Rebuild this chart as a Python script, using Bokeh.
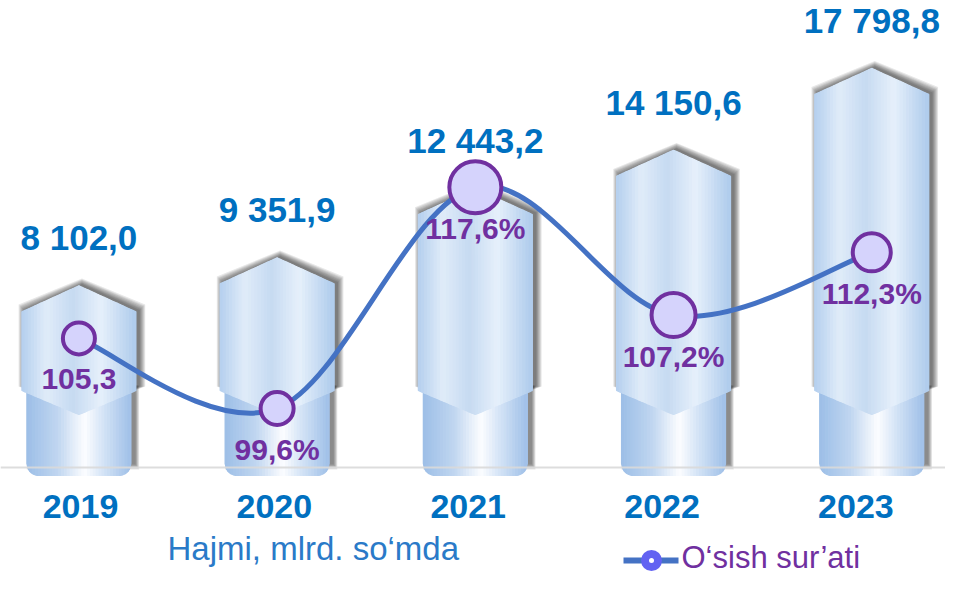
import math
from bokeh.plotting import figure
from bokeh.models import Range1d, ColumnDataSource, Span
from bokeh.embed import file_html
from bokeh.resources import INLINE
from bokeh.core.properties import value

# ---------------- data ----------------
years = ["2019", "2020", "2021", "2022", "2023"]
volume = [8102.0, 9351.9, 12443.2, 14150.6, 17798.8]
growth = [105.3, 99.6, 117.6, 107.2, 112.3]
growth_labels = ["105,3", "99,6%", "117,6%", "107,2%", "112,3%"]
volume_title = "Hajmi, mlrd. so\u2018mda"
growth_title = "O\u2018sish sur\u2019ati"

# ---------------- styles ----------------
marker_sizes = [32, 33, 52, 44, 38]
FONT = value("Liberation Sans")
BLUE_TXT = "#0070c0"
PURPLE = "#7030a0"
LINE_BLUE = "#4472c4"

W, H = 945, 575
X0, X1 = -0.3956, 4.372
Y0, Y1 = -4817.0, 20828.0
P0, P1 = 86.01, 132.79
ux = (X1 - X0) / W      # data units per px (x)
uy = (Y1 - Y0) / H      # data units per px (volume axis)
up = (P1 - P0) / H      # data units per px (growth axis)

def sx(px):
    return X0 + px * ux

def sy(py):
    return Y1 - py * uy

def hex2rgb(h):
    h = h.lstrip("#")
    return tuple(int(h[i:i + 2], 16) for i in (0, 2, 4))

def grad(stops, t):
    for (t0, c0), (t1, c1) in zip(stops[:-1], stops[1:]):
        if t <= t1:
            f = (t - t0) / (t1 - t0)
            a, b = hex2rgb(c0), hex2rgb(c1)
            return "#%02x%02x%02x" % tuple(int(round(a[j] + (b[j] - a[j]) * f)) for j in range(3))
    return stops[-1][1]

upper_stops = [(0, "#b4cfee"), (0.22, "#e0ecf9"), (0.45, "#c6daf1"), (0.7, "#e6f0fb"), (1, "#aecbec")]
lower_stops = [(0, "#9cbee7"), (0.3, "#c0d6f0"), (0.56, "#fcfdff"), (0.76, "#d0e1f5"), (1, "#a0c0e8")]

idx = list(range(len(years)))

p = figure(width=W, height=H, x_range=Range1d(X0, X1), y_range=Range1d(Y0, Y1),
           output_backend="svg", toolbar_location=None, min_border=0,
           x_axis_location=None, y_axis_location=None)
p.extra_y_ranges = {"pct": Range1d(P0, P1)}
p.grid.visible = False
p.outline_line_color = None
p.background_fill_color = "white"
p.border_fill_color = "white"

# geometry (px)
HW_UP, DROP, CH_SIDE, CH_PT = 57, 26, 77, 53
HW_LO, LO_BOT, LO_TOP, RAD = 52, -8, 82, 12
N = 36
TXT_SHIFT = 12   # compensation for the svg text baseline

sh_xs, sh_ys = [], []
base_xs, base_ys = [], []
lo_xs, lo_ys, lo_c = [], [], []
ub_xs, ub_ys = [], []
ups_x, ups_y, ups_c = [], [], []

for i, v in zip(idx, volume):
    # blurred shadow of upper piece
    for k in range(1, 8):
        hw = (HW_UP + k * 0.9) * ux
        ox, oy = 3 * ux, 1 * uy
        sh_xs.append([i - hw + ox, i + ox, i + hw + ox, i + hw + ox, i + ox, i - hw + ox])
        sh_ys.append([v - DROP * uy + k * 0.9 * uy + oy, v + k * 0.9 * uy + oy,
                      v - DROP * uy + k * 0.9 * uy + oy,
                      (CH_SIDE + 4) * uy, (CH_PT + 4) * uy, (CH_SIDE + 4) * uy])
    # blurred shadow of lower piece
    for k in range(1, 7):
        hw = (HW_LO + k * 0.7) * ux
        ox = 4 * ux
        sh_xs.append([i - hw + ox, i + hw + ox, i + hw + ox, i - hw + ox])
        sh_ys.append([LO_TOP * uy, LO_TOP * uy, (LO_BOT + RAD - k) * uy, (LO_BOT + RAD - k) * uy])

    # lower cylinder
    def ybot(r):
        e = (1 - abs(r)) * HW_LO
        if e < RAD:
            return (LO_BOT + RAD - math.sqrt(max(RAD ** 2 - (RAD - e) ** 2, 0))) * uy
        return LO_BOT * uy
    outline_x, outline_y = [], []
    M = 40
    for k in range(M + 1):
        r = -1 + 2 * k / M
        outline_x.append(i + r * HW_LO * ux)
        outline_y.append(ybot(r))
    base_xs.append([i - HW_LO * ux] + outline_x + [i + HW_LO * ux])
    base_ys.append([LO_TOP * uy] + outline_y + [LO_TOP * uy])
    for k in range(N):
        a = -1 + 2 * k / N
        b = -1 + 2 * (k + 1) / N
        xa, xb = i + a * HW_LO * ux, i + b * HW_LO * ux
        mid = (a + b) / 2
        lo_xs.append([xa, xb, xb, i + mid * HW_LO * ux, xa])
        lo_ys.append([LO_TOP * uy, LO_TOP * uy, ybot(b), ybot(mid), ybot(a)])
        lo_c.append(grad(lower_stops, (k + 0.5) / N))

    # upper arrow piece
    def ytop(r):
        return v - DROP * uy * abs(r)
    def yb(r):
        return (CH_PT + (CH_SIDE - CH_PT) * abs(r)) * uy
    ub_xs.append([i - HW_UP * ux, i, i + HW_UP * ux, i + HW_UP * ux, i, i - HW_UP * ux])
    ub_ys.append([ytop(1), ytop(0), ytop(1), yb(1), yb(0), yb(1)])
    for k in range(N):
        a = -1 + 2 * k / N
        b = -1 + 2 * (k + 1) / N
        xa, xb = i + a * HW_UP * ux, i + b * HW_UP * ux
        ups_x.append([xa, xb, xb, xa])
        ups_y.append([ytop(a), ytop(b), yb(b), yb(a)])
        ups_c.append(grad(upper_stops, (k + 0.5) / N))

p.patches(sh_xs, sh_ys, fill_color="black", fill_alpha=0.095, line_color=None)
p.patches(base_xs, base_ys, fill_color="#bcd3ef", line_color=None)
p.patches(xs="xs", ys="ys", fill_color="c", line_color="c", line_width=1.2,
          source=ColumnDataSource(dict(xs=lo_xs, ys=lo_ys, c=lo_c)))
p.patches(ub_xs, ub_ys, fill_color="#cadcf2", line_color=None)
p.patches(xs="xs", ys="ys", fill_color="c", line_color="c", line_width=1.2,
          source=ColumnDataSource(dict(xs=ups_x, ys=ups_y, c=ups_c)))

# baseline
p.add_layout(Span(location=0, dimension="width", line_color="#d9d9d9", line_width=2, line_alpha=0.9))

# smooth growth line (Catmull-Rom -> bezier)
n = len(idx)
bx0, by0, bx1, by1, cx0, cy0, cx1, cy1 = [], [], [], [], [], [], [], []
for s in range(n - 1):
    a0 = max(s - 1, 0)
    a3 = min(s + 2, n - 1)
    bx0.append(idx[s]); by0.append(growth[s])
    bx1.append(idx[s + 1]); by1.append(growth[s + 1])
    cx0.append(idx[s] + (idx[s + 1] - idx[a0]) / 6)
    cy0.append(growth[s] + (growth[s + 1] - growth[a0]) / 6)
    cx1.append(idx[s + 1] - (idx[a3] - idx[s]) / 6)
    cy1.append(growth[s + 1] - (growth[a3] - growth[s]) / 6)
p.bezier(x0=bx0, y0=by0, x1=bx1, y1=by1, cx0=cx0, cy0=cy0, cx1=cx1, cy1=cy1,
         line_color=LINE_BLUE, line_width=5, y_range_name="pct")

p.scatter(x=idx, y=growth, size=marker_sizes, fill_color="#d5d3fc", line_color=PURPLE,
          line_width=4, y_range_name="pct")

# labels
vol_labels = [f"{v:,.1f}".replace(",", " ").replace(".", ",") for v in volume]
p.text(x=idx, y=[v + (36 + TXT_SHIFT) * uy for v in volume], text=vol_labels, text_align="center",
       text_baseline="alphabetic", text_font=FONT, text_font_size="35px",
       text_font_style="bold", text_color=BLUE_TXT)

p.text(x=idx, y=[g - (53 - TXT_SHIFT) * up for g in growth], text=growth_labels, text_align="center",
       text_baseline="alphabetic", text_font=FONT, text_font_size="30px",
       text_font_style="bold", text_color=PURPLE, y_range_name="pct")

p.text(x=[i * 0.978 + 0.008 for i in idx], y=[-(51 - TXT_SHIFT) * uy] * n, text=years,
       text_align="center", text_baseline="alphabetic", text_font=FONT, text_font_size="34px",
       text_font_style="bold", text_color=BLUE_TXT)

# legend-like captions
p.text(x=[sx(167)], y=[sy(548)], text=[volume_title], text_align="left", text_baseline="middle",
       text_font=FONT, text_font_size="33px", text_color="#2a7ac8")
p.segment(x0=[sx(623)], y0=[sy(560)], x1=[sx(678)], y1=[sy(560)], line_color=LINE_BLUE,
          line_width=6)
p.scatter(x=[sx(651)], y=[sy(560)], size=21, fill_color="#6262f2", line_color=None)
p.scatter(x=[sx(651)], y=[sy(560)], size=5, fill_color="white", line_color=None)
p.text(x=[sx(681)], y=[sy(557)], text=[growth_title], text_align="left", text_baseline="middle",
       text_font=FONT, text_font_size="31px", text_color=PURPLE)

open("out.html", "w").write(file_html(p, INLINE))
